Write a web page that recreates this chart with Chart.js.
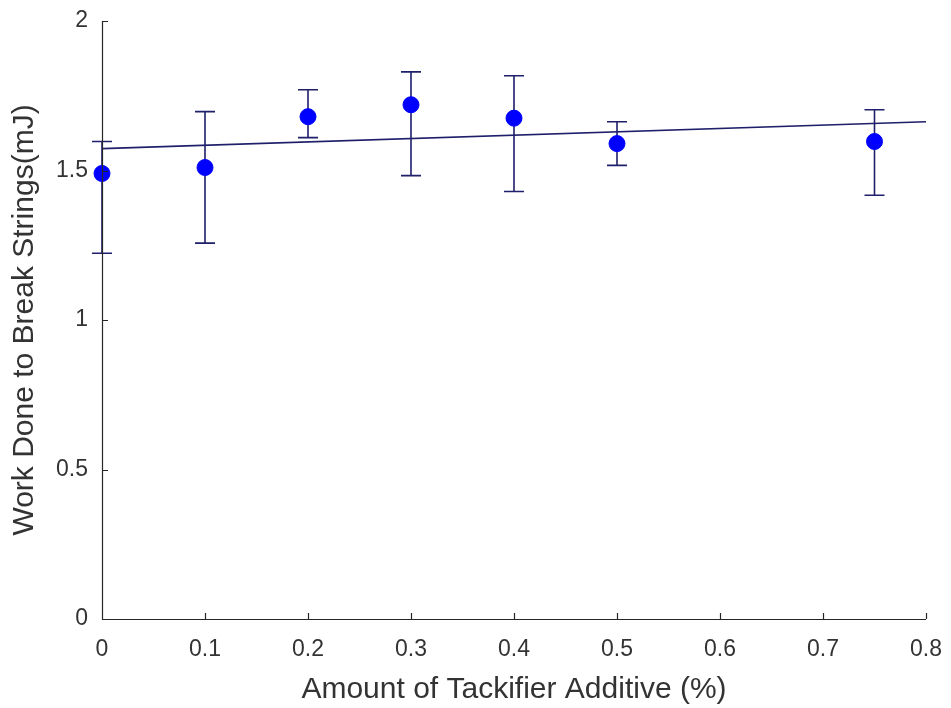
<!DOCTYPE html>
<html>
<head>
<meta charset="utf-8">
<script src="https://cdn.jsdelivr.net/npm/chart.js@4/dist/chart.umd.min.js"></script>
<style>
  html, body { margin: 0; padding: 0; background: #fff; }
  #wrap { width: 951px; height: 708px; }
</style>
</head>
<body>
<div id="wrap"><canvas id="mycanvas" width="951" height="708"></canvas></div>
<script>
// tackifier amount (%) and measured work, with error bar limits
var additive = [0, 0.1, 0.2, 0.3, 0.4, 0.5, 0.75];
var work     = [1.49, 1.51, 1.68, 1.72, 1.675, 1.59, 1.597];
var errLow   = [1.223, 1.257, 1.61, 1.483, 1.43, 1.517, 1.417];
var errHigh  = [1.597, 1.697, 1.77, 1.83, 1.817, 1.663, 1.703];

// linear fit end points
var fitX = [0, 0.8];
var fitY = [1.573, 1.663];

var xTicks = [0, 0.1, 0.2, 0.3, 0.4, 0.5, 0.6, 0.7, 0.8];
var yTicks = [0, 0.5, 1, 1.5, 2];

var axisColor = '#262626';
var barColor = '#1f1f6b';
var textColor = '#333';

var points = [];
for (var i in additive) {
	points.push({x: additive[i], y: work[i]});
}
var fit = [];
for (var j in fitX) {
	fit.push({x: fitX[j], y: fitY[j]});
}

// error bars plus inward axis ticks, drawn from the chart scales
var errorBars = {
	id: 'errorBars',
	beforeDatasetsDraw: function(chart) {
		var ctx = chart.ctx;
		var xs = chart.scales.x, ys = chart.scales.y;
		ctx.save();
		ctx.strokeStyle = barColor;
		ctx.lineWidth = 1.6;
		for (var i = 0; i < additive.length; i++) {
			var px = xs.getPixelForValue(additive[i]);
			var lo = ys.getPixelForValue(errLow[i]);
			var hi = ys.getPixelForValue(errHigh[i]);
			ctx.beginPath();
			ctx.moveTo(px, lo); ctx.lineTo(px, hi);
			ctx.moveTo(px - 10, lo); ctx.lineTo(px + 10, lo);
			ctx.moveTo(px - 10, hi); ctx.lineTo(px + 10, hi);
			ctx.stroke();
		}
		ctx.restore();
	},
	afterDraw: function(chart) {
		var ctx = chart.ctx;
		var xs = chart.scales.x, ys = chart.scales.y;
		var a = chart.chartArea;
		ctx.save();
		ctx.strokeStyle = axisColor;
		ctx.lineWidth = 1.2;
		ctx.beginPath();
		ctx.moveTo(a.left + 0.5, a.top); ctx.lineTo(a.left + 0.5, a.bottom + 0.5);
		ctx.lineTo(a.right, a.bottom + 0.5);
		xTicks.forEach(function(v) {
			var p = Math.round(xs.getPixelForValue(v)) + 0.5;
			ctx.moveTo(p, a.bottom); ctx.lineTo(p, a.bottom - 6);
		});
		yTicks.forEach(function(v) {
			var p = Math.round(ys.getPixelForValue(v)) + 0.5;
			ctx.moveTo(a.left, p); ctx.lineTo(a.left + 6, p);
		});
		ctx.stroke();
		ctx.restore();
	}
};

var ctx = document.getElementById('mycanvas');

var chart = new Chart(ctx, {
	type: 'scatter',
	data: {
		datasets: [
			{
				type: 'line',
				label: 'fit',
				data: fit,
				borderColor: barColor,
				borderWidth: 1.6,
				pointRadius: 0,
				fill: false,
				clip: false
			},
			{
				label: 'Work',
				data: points,
				backgroundColor: '#0000ff',
				borderColor: '#0000ff',
				pointRadius: 8,
				pointHoverRadius: 8,
				clip: false
			}
		]
	},
	options: {
		responsive: false,
		animation: false,
		events: [],
		layout: { padding: { top: 21, right: 25, left: 0, bottom: 0 } },
		plugins: {
			legend: { display: false },
			tooltip: { enabled: false }
		},
		scales: {
			x: {
				type: 'linear',
				min: 0,
				max: 0.8,
				afterFit: function(s) {
					s.height = 89;
					s.paddingLeft = 0;
					s.paddingRight = 0;
				},
				afterBuildTicks: function(s) {
					s.ticks = xTicks.map(function(v) { return {value: v}; });
				},
				grid: { display: false, drawTicks: false },
				border: { display: false },
				ticks: {
					padding: 17,
					color: textColor,
					font: { family: 'Liberation Sans', size: 23 },
					callback: function(v) { return String(v); }
				},
				title: {
					display: true,
					text: 'Amount of Tackifier Additive (%)',
					color: textColor,
					font: { family: 'Liberation Sans', size: 30 },
					padding: { top: 0, bottom: 0 }
				}
			},
			y: {
				type: 'linear',
				min: 0,
				max: 2,
				afterFit: function(s) {
					s.width = 102;
					s.paddingTop = 0;
					s.paddingBottom = 0;
				},
				afterBuildTicks: function(s) {
					s.ticks = yTicks.map(function(v) { return {value: v}; });
				},
				grid: { display: false, drawTicks: false },
				border: { display: false },
				ticks: {
					padding: 14,
					color: textColor,
					font: { family: 'Liberation Sans', size: 23 },
					callback: function(v) { return String(v); }
				},
				title: {
					display: true,
					text: 'Work Done to Break Strings(mJ)',
					color: textColor,
					font: { family: 'Liberation Sans', size: 30 },
					padding: { top: 7, bottom: 0 }
				}
			}
		}
	},
	plugins: [errorBars]
});
</script>
</body>
</html>
